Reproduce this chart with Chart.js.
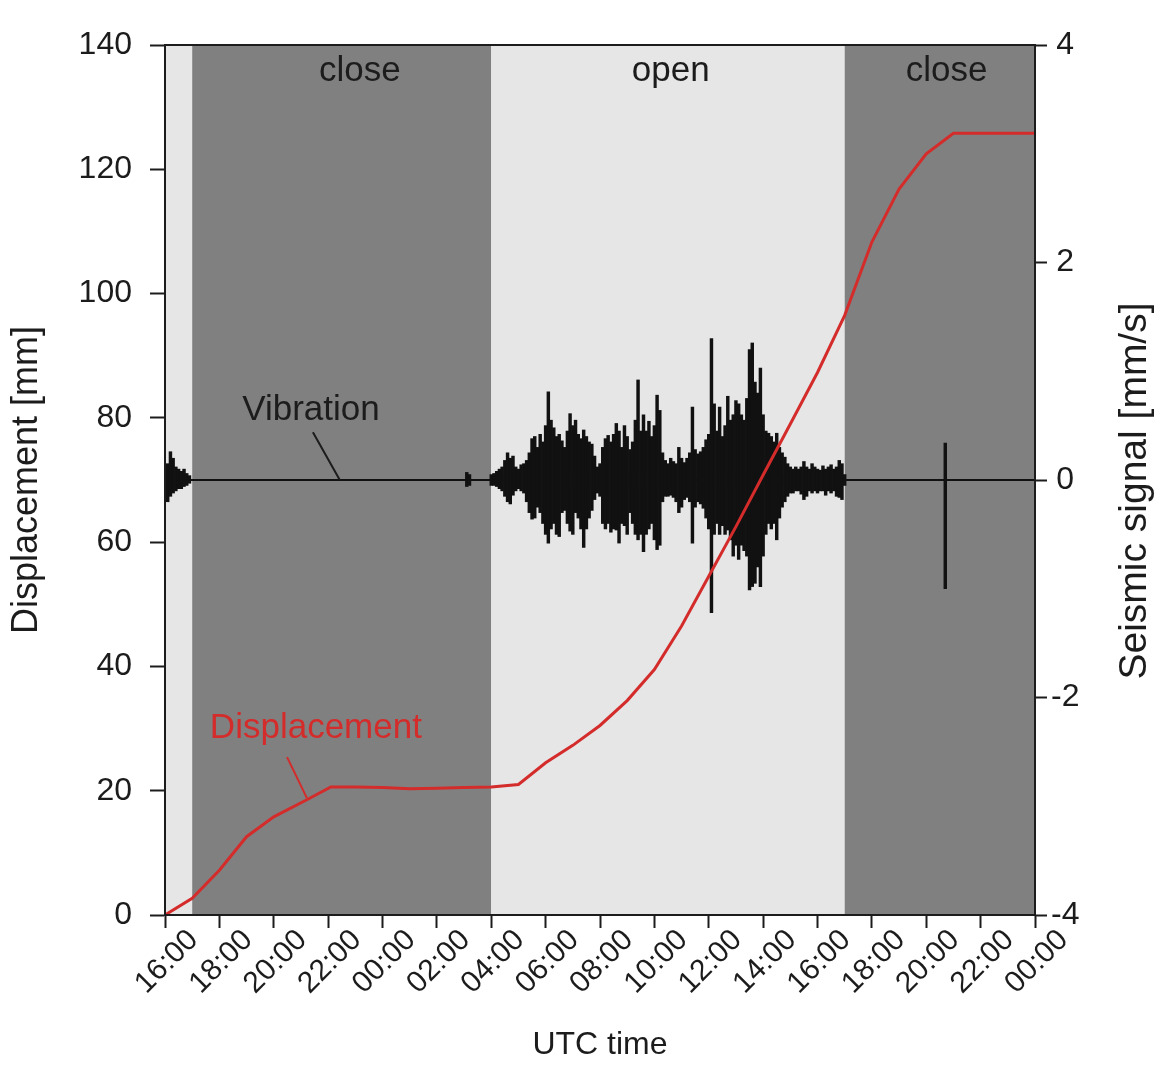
<!DOCTYPE html>
<html>
<head>
<meta charset="utf-8">
<script src="https://cdn.jsdelivr.net/npm/chart.js@4"></script>
<style>
  html, body { margin:0; padding:0; background:#fff; }
  #wrap { width:1157px; height:1073px; }
</style>
</head>
<body>
<div id="wrap"><canvas id="chart" width="1157" height="1073"></canvas></div>
<script>
// x values are hours since 16:00 UTC of the first day
const xTickLabels = ['16:00','18:00','20:00','22:00','00:00','02:00','04:00','06:00','08:00',
                     '10:00','12:00','14:00','16:00','18:00','20:00','22:00','00:00'];
const xTickHours = [0, 2, 4, 6, 8, 10, 12, 14, 16, 18, 20, 22, 24, 26, 28, 30, 32];

// gate phases
const phaseStart = [0, 1, 12, 25];
const phaseEnd   = [1, 12, 25, 32];
const phaseState = ['open', 'close', 'open', 'close'];

// displacement [mm]
const dispTime  = [0, 1, 2, 3, 4, 5.2, 6.1, 7, 8, 9, 10, 11, 12, 13, 14, 15, 16, 17, 18, 19,
                   20, 21, 22, 23, 24, 25, 26, 27, 28, 29, 32];
const dispValue = [0, 2.7, 7.2, 12.6, 15.8, 18.5, 20.6, 20.6, 20.5, 20.3, 20.4, 20.5, 20.6, 21.0,
                   24.5, 27.3, 30.5, 34.5, 39.5, 46.5, 54.5, 62.5, 70.8, 79.0, 87.3, 96.5,
                   108.3, 116.8, 122.5, 125.8, 125.8];

// vibration envelope [mm/s] (max / min per sample)
const vibTime = [
  0.0, 0.1, 0.2, 0.3, 0.4, 0.5, 0.6, 0.7, 0.8, 0.9,
  11.1, 11.2,
  12.0, 12.1, 12.2, 12.3, 12.4, 12.5, 12.6, 12.7, 12.8, 12.9,
  13.0, 13.1, 13.2, 13.3, 13.4, 13.5, 13.6, 13.7, 13.8, 13.9,
  14.0, 14.1, 14.2, 14.3, 14.4, 14.5, 14.6, 14.7, 14.8, 14.9,
  15.0, 15.1, 15.2, 15.3, 15.4, 15.5, 15.6, 15.7, 15.8, 15.9,
  16.0, 16.1, 16.2, 16.3, 16.4, 16.5, 16.6, 16.7, 16.8, 16.9,
  17.0, 17.1, 17.2, 17.3, 17.4, 17.5, 17.6, 17.7, 17.8, 17.9,
  18.0, 18.1, 18.2, 18.3, 18.4, 18.5, 18.6, 18.7, 18.8, 18.9,
  19.0, 19.1, 19.2, 19.3, 19.4, 19.5, 19.6, 19.7, 19.8, 19.9,
  20.0, 20.1, 20.2, 20.3, 20.4, 20.5, 20.6, 20.7, 20.8, 20.9,
  21.0, 21.1, 21.2, 21.3, 21.4, 21.5, 21.6, 21.7, 21.8, 21.9,
  22.0, 22.1, 22.2, 22.3, 22.4, 22.5, 22.6, 22.7, 22.8, 22.9,
  23.0, 23.1, 23.2, 23.3, 23.4, 23.5, 23.6, 23.7, 23.8, 23.9,
  24.0, 24.1, 24.2, 24.3, 24.4, 24.5, 24.6, 24.7, 24.8, 24.9,
  25.0,
  28.7
];
const vibHigh = [
  0.10, 0.15, 0.26, 0.20, 0.12, 0.10, 0.08, 0.10, 0.06, 0.04,
  0.07, 0.05,
  0.05, 0.06, 0.08, 0.10, 0.12, 0.18, 0.25, 0.20, 0.22, 0.12,
  0.10, 0.14, 0.15, 0.18, 0.25, 0.38, 0.40, 0.30, 0.42, 0.35,
  0.50, 0.81, 0.55, 0.48, 0.40, 0.42, 0.36, 0.30, 0.45, 0.61,
  0.50, 0.55, 0.42, 0.38, 0.46, 0.40, 0.35, 0.33, 0.22, 0.12,
  0.15, 0.30, 0.38, 0.41, 0.35, 0.42, 0.52, 0.45, 0.30, 0.50,
  0.40, 0.28, 0.35, 0.55, 0.92, 0.45, 0.60, 0.45, 0.54, 0.40,
  0.50, 0.78, 0.64, 0.25, 0.18, 0.15, 0.20, 0.17, 0.15, 0.30,
  0.20, 0.16, 0.20, 0.25, 0.67, 0.28, 0.24, 0.26, 0.30, 0.37,
  0.42, 1.30, 0.70, 0.45, 0.67, 0.40, 0.50, 0.77, 0.55, 0.60,
  0.73, 0.70, 0.60, 0.55, 0.75, 1.20, 1.26, 0.90, 0.80, 1.03,
  0.60, 0.45, 0.43, 0.40, 0.35, 0.43, 0.30, 0.25, 0.21, 0.15,
  0.12, 0.10, 0.12, 0.10, 0.12, 0.17, 0.12, 0.10, 0.15, 0.12,
  0.10, 0.09, 0.13, 0.10, 0.12, 0.14, 0.10, 0.12, 0.18, 0.15,
  0.05,
  0.34
];
const vibLow = [
  -0.15, -0.20, -0.15, -0.12, -0.10, -0.08, -0.08, -0.06, -0.05, -0.03,
  -0.06, -0.05,
  -0.05, -0.05, -0.06, -0.08, -0.10, -0.15, -0.20, -0.22, -0.14, -0.10,
  -0.08, -0.10, -0.12, -0.20, -0.30, -0.36, -0.35, -0.25, -0.30, -0.40,
  -0.50, -0.58, -0.45, -0.40, -0.50, -0.52, -0.30, -0.28, -0.40, -0.47,
  -0.50, -0.30, -0.35, -0.45, -0.62, -0.45, -0.35, -0.28, -0.18, -0.12,
  -0.15, -0.40, -0.45, -0.40, -0.48, -0.45, -0.46, -0.58, -0.40, -0.42,
  -0.50, -0.30, -0.40, -0.50, -0.55, -0.50, -0.66, -0.50, -0.45, -0.40,
  -0.55, -0.64, -0.60, -0.20, -0.15, -0.15, -0.14, -0.16, -0.20, -0.30,
  -0.25, -0.18, -0.16, -0.20, -0.58, -0.25, -0.20, -0.22, -0.26, -0.35,
  -0.45, -1.22, -0.50, -0.40, -0.50, -0.42, -0.50, -0.46, -0.55, -0.70,
  -0.60, -0.73, -0.60, -0.65, -0.70, -1.01, -0.98, -0.95, -0.80, -0.98,
  -0.70, -0.50, -0.40, -0.45, -0.40, -0.55, -0.35, -0.25, -0.20, -0.15,
  -0.12, -0.12, -0.10, -0.10, -0.13, -0.18, -0.15, -0.10, -0.12, -0.10,
  -0.12, -0.10, -0.10, -0.14, -0.10, -0.12, -0.10, -0.15, -0.16, -0.18,
  -0.05,
  -1.00
];

// quiet trace
const baseTime  = [0, 32];
const baseValue = [0, 0];

const FONT = '"Liberation Sans", Arial, Helvetica, sans-serif';
const INK = '#1c1c1c';
const RED = '#d42b2b';
const phaseFill = { open: '#e6e6e6', close: '#808080' };

// text placed in the plot (data coordinates)
const phaseLabels = [
  { text: 'close', x: 7.17, y: 135.7 },
  { text: 'open',  x: 18.6, y: 135.7 },
  { text: 'close', x: 28.75, y: 135.7 }
];
const callouts = [
  { text: 'Vibration', color: INK, axis: 'y2', x: 5.37, y: 0.64, from: [5.44, 0.44], to: [6.43, 0.0] },
  { text: 'Displacement', color: RED, axis: 'y', x: 5.55, y: 30.1, from: [4.49, 25.4], to: [5.22, 18.8] }
];

const decor = {
  id: 'decor',
  beforeDatasetsDraw(chart){
    const {ctx, chartArea: a, scales: {x}} = chart;
    ctx.save();
    phaseStart.forEach((s, i) => {
      const x0 = x.getPixelForValue(s);
      const x1 = x.getPixelForValue(phaseEnd[i]);
      ctx.fillStyle = phaseFill[phaseState[i]];
      ctx.fillRect(x0, a.top, x1 - x0, a.bottom - a.top);
    });
    ctx.restore();
  },
  afterDatasetsDraw(chart){
    const {ctx, chartArea: a, scales} = chart;
    const x = scales.x;
    ctx.save();

    ctx.font = '35px ' + FONT;
    ctx.textAlign = 'center';
    ctx.textBaseline = 'middle';
    ctx.fillStyle = INK;
    phaseLabels.forEach(l => {
      ctx.fillText(l.text, x.getPixelForValue(l.x), scales.y.getPixelForValue(l.y));
    });

    callouts.forEach(c => {
      const ys = scales[c.axis];
      ctx.fillStyle = c.color;
      ctx.fillText(c.text, x.getPixelForValue(c.x), ys.getPixelForValue(c.y));
      ctx.strokeStyle = c.color;
      ctx.lineWidth = 2;
      ctx.beginPath();
      ctx.moveTo(x.getPixelForValue(c.from[0]), ys.getPixelForValue(c.from[1]));
      ctx.lineTo(x.getPixelForValue(c.to[0]), ys.getPixelForValue(c.to[1]));
      ctx.stroke();
    });

    // frame
    ctx.strokeStyle = INK;
    ctx.lineWidth = 2;
    ctx.strokeRect(a.left, a.top, a.right - a.left, a.bottom - a.top);

    // rotated time labels, centred under each tick
    ctx.font = '30px ' + FONT;
    ctx.fillStyle = INK;
    x.ticks.forEach((tk, i) => {
      ctx.save();
      ctx.translate(x.getPixelForValue(tk.value) + 2, a.bottom + 47);
      ctx.rotate(-Math.PI / 4);
      ctx.fillText(xTickLabels[i] || '', 0, 0);
      ctx.restore();
    });

    // right axis title, reading bottom to top like the left one
    const y2 = scales.y2;
    ctx.font = '39px ' + FONT;
    ctx.save();
    ctx.translate(chart.width - 22, (y2.top + y2.bottom) / 2 + 11);
    ctx.rotate(-Math.PI / 2);
    ctx.fillText('Seismic signal [mm/s]', 0, 0);
    ctx.restore();

    ctx.restore();
  }
};

new Chart(document.getElementById('chart'), {
  type: 'bar',
  data: {
    datasets: [
      {
        type: 'line',
        label: 'Displacement',
        data: dispTime.map((t, i) => ({ x: t, y: dispValue[i] })),
        xAxisID: 'x', yAxisID: 'y',
        borderColor: RED, borderWidth: 3, pointRadius: 0, tension: 0,
        order: 0
      },
      {
        type: 'bar',
        label: 'Vibration',
        data: vibTime.map((t, i) => ({ x: t, y: [vibLow[i], vibHigh[i]] })),
        xAxisID: 'x', yAxisID: 'y2',
        backgroundColor: '#111', borderWidth: 0,
        barThickness: 2.8, grouped: false,
        order: 1
      },
      {
        type: 'line',
        label: 'baseline',
        data: baseTime.map((t, i) => ({ x: t, y: baseValue[i] })),
        xAxisID: 'x', yAxisID: 'y2',
        borderColor: '#111', borderWidth: 2, pointRadius: 0,
        order: 2
      }
    ]
  },
  options: {
    responsive: false,
    animation: false,
    layout: { padding: { top: 45, left: 0, right: 0, bottom: 0 } },
    plugins: { legend: { display: false }, tooltip: { enabled: false } },
    scales: {
      x: {
        type: 'linear', min: 0, max: 32, offset: false,
        ticks: { display: false },
        afterBuildTicks(s){ s.ticks = xTickHours.map(v => ({ value: v })); },
        grid: { offset: false, drawOnChartArea: false, tickLength: 13, tickColor: INK, tickWidth: 2 },
        border: { display: true, color: INK, width: 2 },
        title: { display: true, text: 'UTC time', color: INK,
                 font: { family: FONT, size: 32 }, padding: { bottom: 9 } },
        afterFit(s){ s.height = 158; }
      },
      y: {
        position: 'left', min: 0, max: 140,
        ticks: { stepSize: 20, color: INK, padding: 18, font: { family: FONT, size: 32 } },
        grid: { drawOnChartArea: false, tickLength: 15, tickColor: INK, tickWidth: 2 },
        border: { display: true, color: INK, width: 2 },
        title: { display: true, text: 'Displacement [mm]', color: INK,
                 font: { family: FONT, size: 36 }, padding: { top: 5 } },
        afterFit(s){ s.width = 165; }
      },
      y2: {
        position: 'right', min: -4, max: 4,
        ticks: { stepSize: 2, color: INK, padding: 4, crossAlign: 'center',
                 font: { family: FONT, size: 32 } },
        grid: { drawOnChartArea: false, tickLength: 12, tickColor: INK, tickWidth: 2 },
        border: { display: true, color: INK, width: 2 },
        title: { display: false },
        afterFit(s){ s.width = 122; }
      }
    }
  },
  plugins: [decor]
});
</script>
</body>
</html>
